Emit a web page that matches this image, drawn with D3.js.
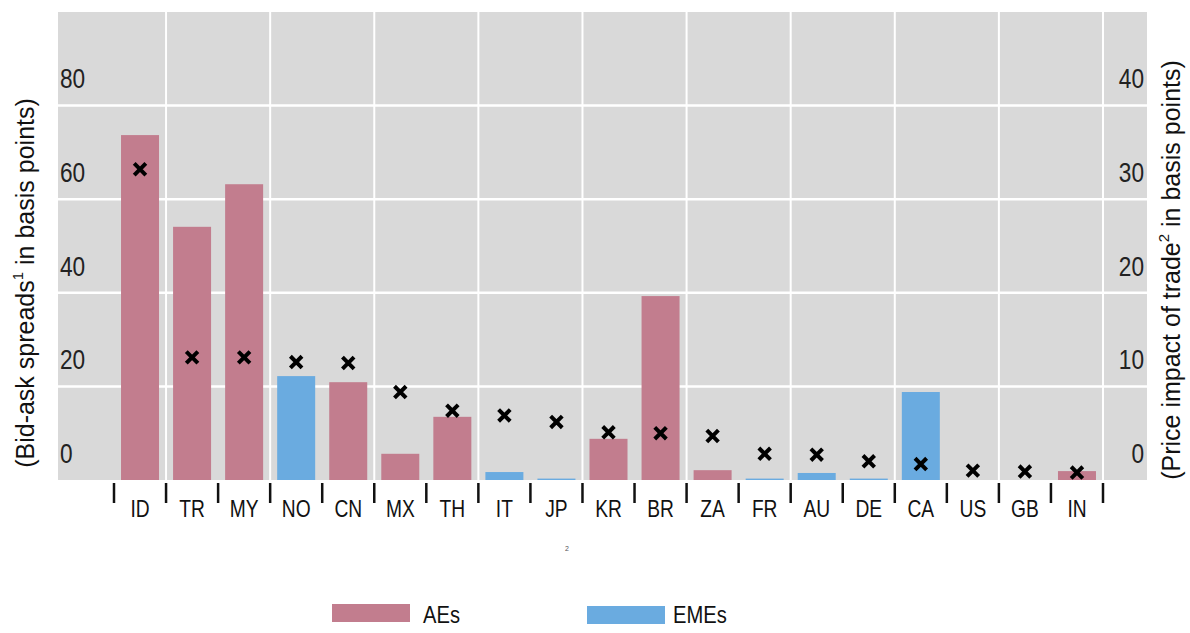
<!DOCTYPE html>
<html>
<head>
<meta charset="utf-8">
<script src="https://cdn.jsdelivr.net/npm/d3@7"></script>
<style>
  html, body { margin: 0; padding: 0; background: #ffffff; }
  svg { display: block; }
</style>
</head>
<body>
<svg id="chart" width="1190" height="633"></svg>
<script>
// ---- data ----
const categories = ["ID","TR","MY","NO","CN","MX","TH","IT","JP","KR","BR","ZA","FR","AU","DE","CA","US","GB","IN"];
const bidAskSpreads = [73.7, 54.1, 63.2, 22.2, 20.9, 5.6, 13.5, 1.7, 0.3, 8.8, 39.3, 2.1, 0.3, 1.5, 0.3, 18.8, 0, 0, 1.9];
const groups = ["AEs","AEs","AEs","EMEs","AEs","AEs","AEs","EMEs","EMEs","AEs","AEs","AEs","EMEs","EMEs","EMEs","EMEs","EMEs","EMEs","AEs"];
const priceImpact = [33.2, 13.1, 13.1, 12.6, 12.5, 9.4, 7.4, 6.9, 6.2, 5.1, 5.0, 4.7, 2.8, 2.7, 2.0, 1.7, 1.0, 0.9, 0.8];
const leftTicks = [0, 20, 40, 60, 80];
const rightTicks = [0, 10, 20, 30, 40];
const legendItems = ["AEs", "EMEs"];

// ---- layout ----
const svg = d3.select("#chart");
const plot = {left: 58, right: 1147, top: 12, bottom: 480};
const colors = {AEs: "#c27d8e", EMEs: "#6aabe0"};
const font = "'Liberation Sans', Arial, sans-serif";

const x = d3.scaleBand().domain(categories).range([114, 1103]).paddingInner(0.27).paddingOuter(0.135);
const yL = d3.scaleLinear().domain([0, 100]).range([plot.bottom, plot.top]);
const yR = d3.scaleLinear().domain([0, 50]).range([plot.bottom, plot.top]);
const step = x.step();
const x0 = 114;

// background
svg.append("rect").attr("x", plot.left).attr("y", plot.top)
  .attr("width", plot.right - plot.left).attr("height", plot.bottom - plot.top)
  .attr("fill", "#d9d9d9");

// horizontal gridlines
svg.append("g").selectAll("line").data([20, 40, 60, 80]).join("line")
  .attr("x1", plot.left).attr("x2", plot.right)
  .attr("y1", d => yL(d)).attr("y2", d => yL(d))
  .attr("stroke", "#ffffff").attr("stroke-width", 2.5);

// vertical gridlines at every second category boundary
const vIdx = d3.range(1, categories.length + 1, 2);
svg.append("g").selectAll("line").data(vIdx).join("line")
  .attr("x1", i => x0 + i * step).attr("x2", i => x0 + i * step)
  .attr("y1", plot.top).attr("y2", plot.bottom)
  .attr("stroke", "#ffffff").attr("stroke-width", 2);

// bars
svg.append("g").selectAll("rect").data(categories).join("rect")
  .attr("x", d => x(d))
  .attr("width", x.bandwidth())
  .attr("y", (d, i) => yL(bidAskSpreads[i]))
  .attr("height", (d, i) => yL(0) - yL(bidAskSpreads[i]))
  .attr("fill", (d, i) => colors[groups[i]]);

// crosses (right axis)
const cs = 5.8;
svg.append("g").selectAll("path").data(categories).join("path")
  .attr("d", (d, i) => {
    const cx = x(d) + x.bandwidth() / 2, cy = yR(priceImpact[i]);
    return `M${cx - cs},${cy - cs}L${cx + cs},${cy + cs}M${cx - cs},${cy + cs}L${cx + cs},${cy - cs}`;
  })
  .attr("stroke", "#000000").attr("stroke-width", 4).attr("fill", "none");

// helper for condensed text
function narrowText(sel, sx) {
  return sel.attr("transform", d => sel.node() ? null : null);
}

// left tick labels
svg.append("g").selectAll("text").data(leftTicks).join("text")
  .attr("transform", d => `translate(60,${yL(d) - 27}) scale(0.84,1)`)
  .attr("dominant-baseline", "central")
  .attr("font-family", font).attr("font-size", 27).attr("fill", "#222")
  .text(d => d);

// right tick labels
svg.append("g").selectAll("text").data(rightTicks).join("text")
  .attr("transform", d => `translate(1144,${yR(d) - 27}) scale(0.84,1)`)
  .attr("text-anchor", "end")
  .attr("dominant-baseline", "central")
  .attr("font-family", font).attr("font-size", 27).attr("fill", "#222")
  .text(d => d);

// x tick separators
svg.append("g").selectAll("line").data(d3.range(0, categories.length + 1)).join("line")
  .attr("x1", i => x0 + i * step).attr("x2", i => x0 + i * step)
  .attr("y1", 483).attr("y2", 503)
  .attr("stroke", "#111").attr("stroke-width", 2.5);

// x labels
svg.append("g").selectAll("text").data(categories).join("text")
  .attr("transform", d => `translate(${x(d) + x.bandwidth() / 2},517) scale(0.8,1)`)
  .attr("text-anchor", "middle")
  .attr("font-family", font).attr("font-size", 24).attr("fill", "#111")
  .text(d => d);

// axis titles
const lt = svg.append("text")
  .attr("transform", "translate(34,283) rotate(-90)")
  .attr("text-anchor", "middle")
  .attr("font-family", font).attr("font-size", 25).attr("fill", "#111");
lt.append("tspan").text("(Bid-ask spreads");
lt.append("tspan").attr("font-size", 15).attr("dy", -11).text("1");
lt.append("tspan").attr("dy", 11).text(" in basis points)");

const rt = svg.append("text")
  .attr("transform", "translate(1180,270) rotate(-90)")
  .attr("text-anchor", "middle")
  .attr("font-family", font).attr("font-size", 25).attr("fill", "#111");
rt.append("tspan").text("(Price impact of trade");
rt.append("tspan").attr("font-size", 15).attr("dy", -11).text("2");
rt.append("tspan").attr("dy", 11).text(" in basis points)");

// stray small mark
svg.append("text").attr("x", 567).attr("y", 551).attr("text-anchor", "middle")
  .attr("font-family", font).attr("font-size", 7).attr("fill", "#555").text("2");

// legend
const legX = [332, 587], legTextX = [423, 673];
const leg = svg.append("g").selectAll("g").data(legendItems).join("g");
leg.append("rect")
  .attr("x", (d, i) => legX[i]).attr("y", (d, i) => 604 + i * 2)
  .attr("width", 78).attr("height", 18)
  .attr("fill", d => colors[d]);
leg.append("text")
  .attr("transform", (d, i) => `translate(${legTextX[i]},623) scale(0.84,1)`)
  .attr("font-family", font).attr("font-size", 24).attr("fill", "#111")
  .text(d => d);
</script>
</body>
</html>
